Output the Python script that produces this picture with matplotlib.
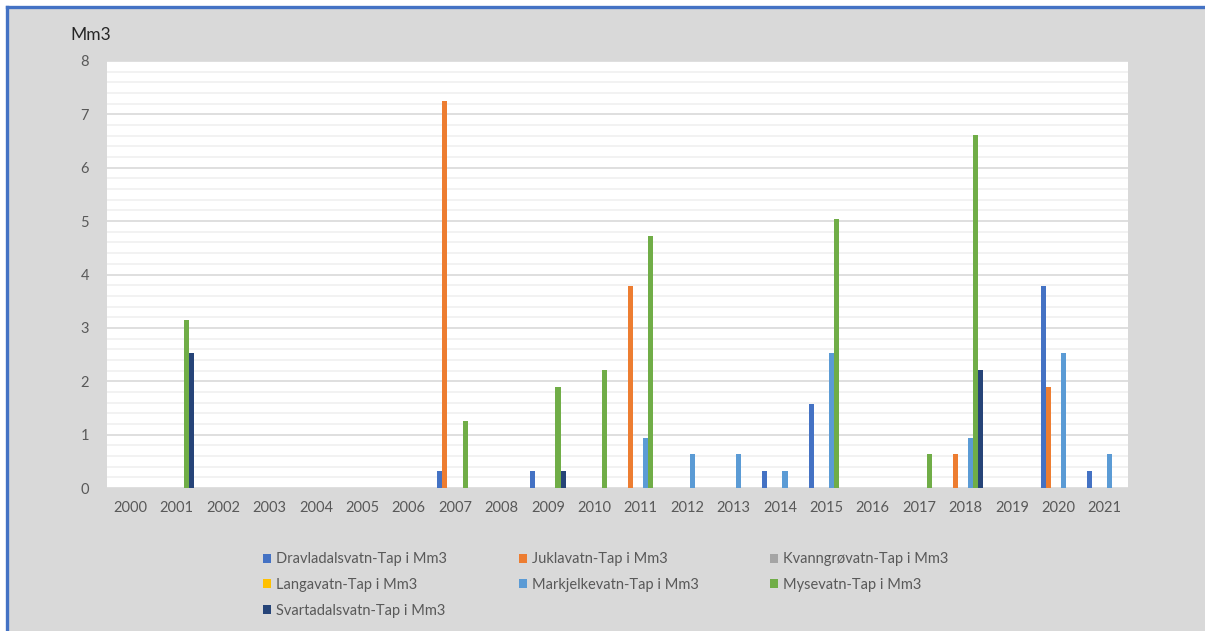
import matplotlib.pyplot as plt
import numpy as np
from matplotlib.patches import Rectangle
from matplotlib.lines import Line2D

plt.rcParams['font.family'] = ['Lato', 'DejaVu Sans']

years = [str(y) for y in range(2000, 2022)]
series_names = ['Dravladalsvatn-Tap i Mm3', 'Juklavatn-Tap i Mm3', 'Kvanngrøvatn-Tap i Mm3',
                'Langavatn-Tap i Mm3', 'Markjelkevatn-Tap i Mm3', 'Mysevatn-Tap i Mm3',
                'Svartadalsvatn-Tap i Mm3']
colors = ['#4472C4', '#ED7D31', '#A5A5A5', '#FFC000', '#5B9BD5', '#70AD47', '#264478']

#                  2000  01     02  03  04  05  06  07     08  09     10     11     12    13    14     15     16  17    18     19  20     21
dravladalsvatn = [0, 0,     0, 0, 0, 0, 0, 0.315, 0, 0.315, 0,     0,     0,    0,    0.315, 1.575, 0, 0,    0,     0, 3.78,  0.315]
juklavatn      = [0, 0,     0, 0, 0, 0, 0, 7.245, 0, 0,     0,     3.78,  0,    0,    0,     0,     0, 0,    0.63,  0, 1.89,  0]
kvanngrovatn   = [0] * 22
langavatn      = [0] * 22
markjelkevatn  = [0, 0,     0, 0, 0, 0, 0, 0,     0, 0,     0,     0.945, 0.63, 0.63, 0.315, 2.52,  0, 0,    0.945, 0, 2.52,  0.63]
mysevatn       = [0, 3.15,  0, 0, 0, 0, 0, 1.26,  0, 1.89,  2.205, 4.725, 0,    0,    0,     5.04,  0, 0.63, 6.615, 0, 0,     0]
svartadalsvatn = [0, 2.52,  0, 0, 0, 0, 0, 0,     0, 0.315, 0,     0,     0,    0,    0,     0,     0, 0,    2.205, 0, 0,     0]

data = [dravladalsvatn, juklavatn, kvanngrovatn, langavatn, markjelkevatn, mysevatn, svartadalsvatn]

fig = plt.figure(figsize=(12.05, 6.31), dpi=100, facecolor='white')
W, H = 1205, 631
# grey chart area + blue frame
fig.patches.append(Rectangle((8 / W, 0), 1, 1 - 8 / H, transform=fig.transFigure,
                             facecolor='#d9d9d9', edgecolor='none', zorder=-10))
fig.lines.append(Line2D([7 / W, 1], [1 - 7 / H, 1 - 7 / H], transform=fig.transFigure,
                        color='#4472C4', lw=2.4, zorder=-5))
fig.lines.append(Line2D([7 / W, 7 / W], [0, 1 - 7 / H], transform=fig.transFigure,
                        color='#4472C4', lw=2.4, zorder=-5))

ax = fig.add_axes([107 / W, 1 - 488 / H, (1128 - 107) / W, (488 - 61) / H])
ax.set_zorder(1)
ax.set_facecolor('white')

x = np.arange(len(years))
n = len(data)
w = 1 / (n + 2.19)
bars = []
for i, (vals, c, name) in enumerate(zip(data, colors, series_names)):
    b = ax.bar(x + (i - (n - 1) / 2) * w, vals, width=w, color=c, label=name, zorder=3)
    bars.append(b)

ax.set_xlim(-0.5, len(years) - 0.5)
ax.set_ylim(0, 8)
ax.set_yticks(range(0, 9))
ax.set_yticks(np.arange(0, 8.01, 0.2), minor=True)
ax.grid(axis='y', which='major', color='#d9d9d9', lw=1.2, zorder=1)
ax.grid(axis='y', which='minor', color='#f0f0f0', lw=1.2, zorder=0)
ax.set_axisbelow(True)
ax.set_xticks(x)
ax.set_xticklabels(years)
ax.tick_params(axis='both', which='both', length=0, labelsize=10.5, labelcolor='#595959')
ax.tick_params(axis='y', pad=13)
ax.tick_params(axis='x', pad=9)
for s in ax.spines.values():
    s.set_visible(False)

fig.text(70 / W, 1 - 35 / H, 'Mm3', fontsize=12.5, color='#262626', va='center', ha='left')

order = [0, 3, 6, 1, 4, 2, 5]
fig.legend([bars[i] for i in order], [series_names[i] for i in order], ncol=3,
           loc='upper left', bbox_to_anchor=(256 / W, 1 - 545 / H), frameon=False,
           fontsize=10.5, labelcolor='#595959', handlelength=0.55, handleheight=0.55,
           handletextpad=0.35, columnspacing=4.9, labelspacing=0.8, borderpad=0)

fig.savefig('out.png', dpi=100, facecolor=fig.get_facecolor())
